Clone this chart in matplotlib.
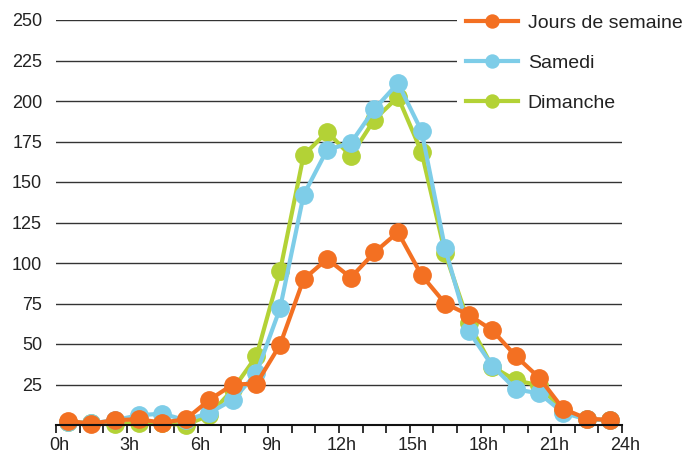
import matplotlib
matplotlib.use("Agg")
import matplotlib.pyplot as plt
import matplotlib.transforms as mtransforms
from matplotlib.ticker import MultipleLocator

plt.rcParams['font.family'] = ['Liberation Sans', 'DejaVu Sans']

hours = [h + 0.5 for h in range(24)]
weekday = [2.5, 0.8, 3, 3.5, 1.5, 3.5, 15.5, 25, 25.5, 49.5, 90, 102.5,
           91, 106.5, 119, 92.5, 75, 68, 58.5, 42.5, 29, 10, 4, 3]
samedi = [2, 1, 3, 6, 7, 3, 7.5, 15.5, 32, 72, 142, 170,
          174, 195, 211, 181.5, 109, 58, 36.5, 22, 19.5, 7.5, 3.5, 3]
dimanche = [2, 1, 0.5, 1.5, 1, 0, 6, 22, 42.5, 95, 166.5, 181,
            166, 188.5, 202.5, 168.5, 106, 63, 36, 27.5, 24.5, 8.5, 3.5, 3]
series_labels = ["Jours de semaine", "Samedi", "Dimanche"]
x_ticks = [0, 3, 6, 9, 12, 15, 18, 21, 24]
x_ticklabels = ["0h", "3h", "6h", "9h", "12h", "15h", "18h", "21h", "24h"]
y_ticks = [25, 50, 75, 100, 125, 150, 175, 200, 225, 250]

c_orange = "#F37022"
c_blue = "#7ECDE8"
c_green = "#B3D236"

fig = plt.figure(figsize=(6.94, 4.57), dpi=100)
ax = fig.add_axes([56/694, 32/457, 566/694, 405/457])

lw = 3.0
ms = 12.5
l_g, = ax.plot(hours, dimanche, color=c_green, lw=lw, marker='o', ms=ms, zorder=3)
l_b, = ax.plot(hours, samedi, color=c_blue, lw=lw, marker='o', ms=ms, zorder=4)
l_o, = ax.plot(hours, weekday, color=c_orange, lw=lw, marker='o', ms=ms, zorder=5)

ax.set_xlim(0, 24)
ax.set_ylim(0, 250)
ax.set_xticks(x_ticks)
ax.set_xticklabels(x_ticklabels)
ax.xaxis.set_minor_locator(MultipleLocator(1))
ax.set_yticks(y_ticks)
ax.set_yticklabels([str(v) for v in y_ticks])

for s in ['top', 'right', 'left']:
    ax.spines[s].set_visible(False)
ax.spines['bottom'].set_color('#111111')
ax.spines['bottom'].set_linewidth(1.5)
ax.spines['bottom'].set_zorder(6)

ax.tick_params(axis='x', which='both', direction='out', length=6, width=1.2,
               color='#111111', labelsize=13, labelcolor='#222222', pad=3)
ax.tick_params(axis='y', length=0, labelsize=13, labelcolor='#222222', pad=10)
ax.yaxis.grid(True, color='#333333', lw=1.0)
ax.set_axisbelow(True)
for l in (l_g, l_b, l_o):
    l.set_clip_on(False)

offset = mtransforms.ScaledTranslation(3/100, 0, fig.dpi_scale_trans)
for lab in ax.get_xticklabels():
    lab.set_transform(lab.get_transform() + offset)

leg = fig.legend([l_o, l_b, l_g], series_labels, loc='upper left',
                 bbox_to_anchor=(457/694, 1 - 5/457), frameon=True,
                 fontsize=14, handlelength=2.67, handletextpad=0.51,
                 labelspacing=1.15, borderpad=0.46, borderaxespad=0,
                 markerscale=0.75)
leg.get_frame().set_facecolor('white')
leg.get_frame().set_edgecolor('none')
leg.get_frame().set_alpha(1)
leg.get_frame().set_boxstyle('square', pad=0)
for t in leg.get_texts():
    t.set_color('#222222')

fig.savefig("out.png", dpi=100)
